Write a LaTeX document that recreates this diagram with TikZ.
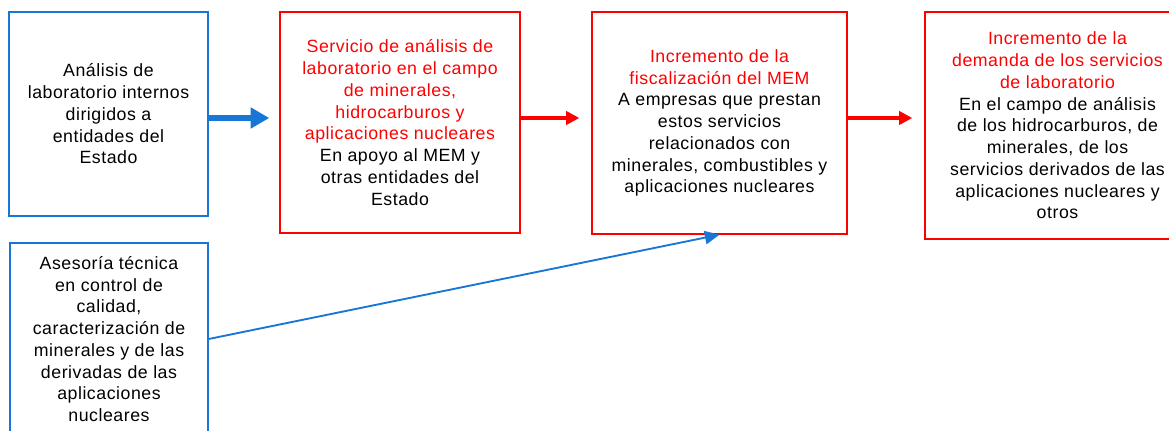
\documentclass[tikz,border=0pt]{standalone}
\usepackage{fontspec}
\setmainfont{Liberation Sans}[LetterSpace=3]
\usepackage{tikz}
\usetikzlibrary{positioning,calc,arrows.meta}

\definecolor{boxblue}{RGB}{24,118,214}
\definecolor{boxred}{RGB}{255,0,0}

\tikzset{
  bluebox/.style={draw=boxblue,line width=1pt,align=center,inner sep=0pt,font=\fontsize{13.3}{16.3}\selectfont},
  redbox/.style={draw=boxred,line width=1pt,align=center,inner sep=0pt,font=\fontsize{13.3}{16.3}\selectfont},
  bigflow/.style={draw=boxblue,line width=4.5pt,-{Triangle[length=14pt,width=15pt]}},
  redflow/.style={draw=boxred,line width=2.4pt,-{Triangle[length=10pt,width=10pt]}},
  thinflow/.style={draw=boxblue,line width=1.4pt,-{Triangle[length=11pt,width=10pt]}}
}

\begin{document}
\begin{tikzpicture}[x=0.75pt,y=-0.75pt]
            \useasboundingbox (0,0) rectangle (1169,431);
            \clip (0,0) rectangle (1169,431);

            \coordinate (flow) at (0,118);

            % cajas
            \node[bluebox,minimum width=149.25pt,minimum height=153pt] (analisis) at (108.5,114)
                {Análisis de\\laboratorio internos\\dirigidos a\\entidades del\\Estado};
            \node[redbox,minimum width=180pt,minimum height=165.75pt] (servicio) at (400,122.5)
                {\textcolor{boxred}{Servicio de análisis de}\\\textcolor{boxred}{laboratorio  en el campo}\\\textcolor{boxred}{de minerales,}\\\textcolor{boxred}{hidrocarburos y}\\\textcolor{boxred}{aplicaciones nucleares}\\En apoyo al MEM y\\otras entidades del\\Estado};
            \node[redbox,minimum width=191.25pt,minimum height=166.5pt] (fiscal) at (719.5,123)
                {\textcolor{boxred}{Incremento de la}\\\textcolor{boxred}{fiscalización del MEM}\\A empresas que prestan\\estos servicios\\relacionados con\\minerales, combustibles y\\aplicaciones nucleares};
            \node[redbox,minimum width=198.75pt,minimum height=170.25pt] (demanda) at (1057.5,125.5)
                {\textcolor{boxred}{Incremento de la}\\\textcolor{boxred}{demanda de los servicios}\\\textcolor{boxred}{de laboratorio}\\En el campo de análisis\\de los  hidrocarburos, de\\minerales, de los\\servicios derivados de las\\aplicaciones nucleares  y\\otros};
            \node[bluebox,minimum width=148.5pt,minimum height=144pt] (asesoria) at (109,339)
                {Asesoría técnica\\en control de\\calidad,\\caracterización de\\minerales y de las\\derivadas de las\\aplicaciones\\nucleares};

            % flechas
            \draw[bigflow,shorten >=7.5pt] (analisis.east |- flow) -- (servicio.west |- flow);
            \draw[redflow,shorten >=9pt] (servicio.east |- flow) -- (fiscal.west |- flow);
            \draw[redflow,shorten >=9pt] (fiscal.east |- flow) -- (demanda.west |- flow);
            \draw[thinflow] (asesoria.east) -- (fiscal.south);
\end{tikzpicture}
\end{document}
